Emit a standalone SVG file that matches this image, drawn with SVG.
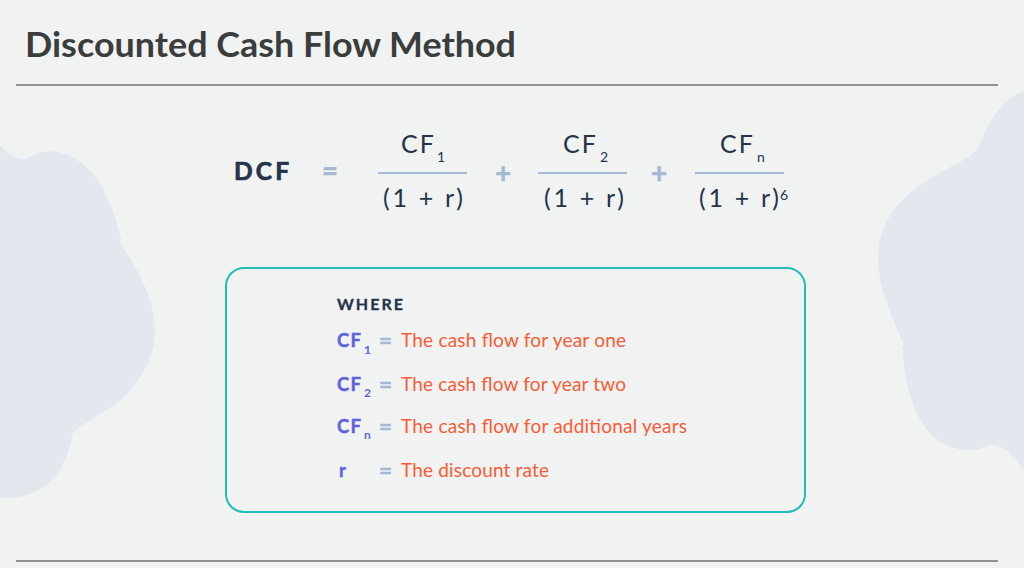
<svg xmlns="http://www.w3.org/2000/svg" width="1024" height="568" viewBox="0 0 1024 568">
<style>
text{font-family:"Lato","Open Sans",sans-serif}
.title{font-size:35px;font-weight:700;fill:#3b3d3d}
.f{font-size:25px;fill:#25344a}
.sub{font-size:14px;fill:#25344a}
.op{font-size:28px;font-weight:700;fill:#a5b8d2;stroke:#a5b8d2;stroke-width:.5}
.fr{stroke:#a5b8d2;stroke-width:2;fill:none}
.k{font-size:18.5px;font-weight:700;fill:#5f63e0;stroke:#5f63e0;stroke-width:.4}
.ks{font-size:12px;font-weight:700;fill:#5f63e0}
.eq{font-size:21px;font-weight:700;fill:#a5b8d2;stroke:#a5b8d2;stroke-width:.5}
.d{font-size:19px;fill:#fb5a34}
.blob{fill:#e3e8ef}
.rule{stroke:#8f908f;stroke-width:2}
</style>
<rect width="1024" height="568" fill="#f1f3f2"/>
<path class="blob" d="M0 146C8 153 15 160 26 159C36 152 48 150 58 152C76 155 92 170 103 188C111 204 118 225 121 239L119 242C134 262 155 297 155 330C155 352 146 374 125 396C108 412 82 423 73 433C67 466 50 498 5 498L0 498Z"/>
<path class="blob" d="M1024 91C1004 98 990 118 980 143C976 158 948 166 925 182C895 202 878 226 878 257C878 292 894 320 904 345L902 346C905 385 915 450 970 450C980 450 988 445 993 445C1003 446 1012 454 1024 470Z"/>
<g id="title"><text class="title" x="25" y="57" textLength="491" lengthAdjust="spacingAndGlyphs">Discounted Cash Flow Method</text></g>
<g id="rules"><line class="rule" x1="16" y1="85" x2="998" y2="85"/><line class="rule" x1="16" y1="561" x2="998" y2="561"/></g>
<g id="formula">
<text x="234" y="180" font-weight="700" fill="#25344a" stroke="#25344a" stroke-width=".7" textLength="55" style="font-size:24.5px">DCF</text>
<text class="op" x="322" y="181" textLength="16" lengthAdjust="spacingAndGlyphs">=</text>
<text class="f" x="401" y="153" textLength="33">CF</text><text class="sub" x="437" y="162">1</text>
<line class="fr" x1="378" y1="173" x2="467" y2="173"/>
<text class="f" x="383" y="207" textLength="80">(1 + r)</text>
<text class="op" x="495" y="183">+</text>
<text class="f" x="563" y="153" textLength="33">CF</text><text class="sub" x="600" y="162">2</text>
<line class="fr" x1="538" y1="173" x2="627" y2="173"/>
<text class="f" x="544" y="207" textLength="80">(1 + r)</text>
<text class="op" x="651" y="183">+</text>
<text class="f" x="720" y="153" textLength="33">CF</text><text class="sub" x="757" y="162">n</text>
<line class="fr" x1="695" y1="173" x2="784" y2="173"/>
<text class="f" x="699" y="207" textLength="80">(1 + r)</text><text class="sub" x="780" y="200">6</text>
</g>
<g id="where-box">
<rect x="226" y="268" width="579" height="244" rx="18" fill="none" stroke="#1fbdb8" stroke-width="2"/>
<text x="337" y="310" font-weight="700" fill="#25344a" stroke="#25344a" stroke-width=".3" textLength="66" style="font-size:16px">WHERE</text>
<text class="k" x="337" y="347" textLength="24">CF</text><text class="ks" x="364" y="354">1</text><text class="eq" x="379" y="348" textLength="13" lengthAdjust="spacingAndGlyphs">=</text><text class="d" x="401" y="347" textLength="225">The cash flow for year one</text>
<text class="k" x="337" y="391" textLength="24">CF</text><text class="ks" x="364" y="397">2</text><text class="eq" x="379" y="392" textLength="13" lengthAdjust="spacingAndGlyphs">=</text><text class="d" x="401" y="391" textLength="225">The cash flow for year two</text>
<text class="k" x="337" y="433" textLength="24">CF</text><text class="ks" x="364" y="439">n</text><text class="eq" x="379" y="434" textLength="13" lengthAdjust="spacingAndGlyphs">=</text><text class="d" x="401" y="433" textLength="286">The cash flow for additional years</text>
<text class="k" x="339" y="477">r</text><text class="eq" x="379" y="478" textLength="13" lengthAdjust="spacingAndGlyphs">=</text><text class="d" x="401" y="477" textLength="148">The discount rate</text>
</g>
</svg>
